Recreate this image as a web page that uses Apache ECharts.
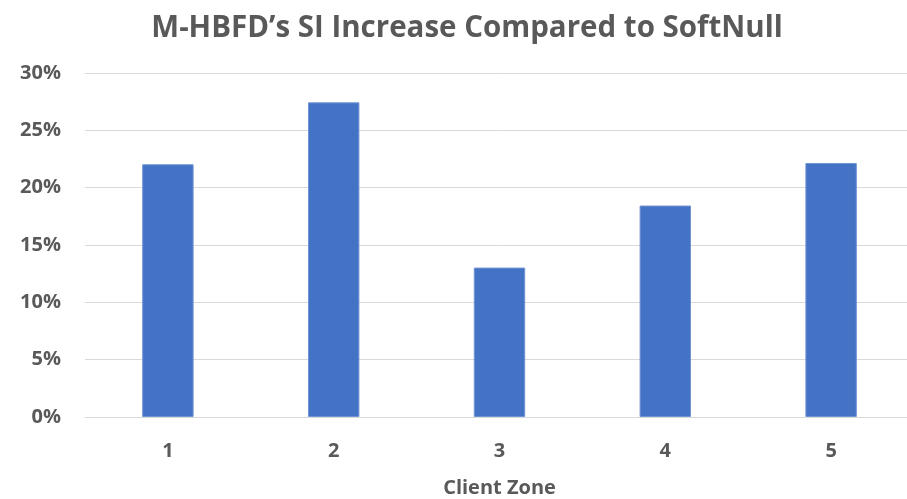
<!DOCTYPE html>
<html>
<head>
<meta charset="utf-8">
<script src="https://cdn.jsdelivr.net/npm/echarts@6/dist/echarts.min.js"></script>
<style>
  html, body { margin: 0; padding: 0; background: #fff; }
  #chart { width: 907px; height: 499px; }
</style>
</head>
<body>
<div id="chart"></div>
<script>
// Client zones on the x axis
const zones = ['1', '2', '3', '4', '5'];
// SI increase of M-HBFD over SoftNull, in percent
const siIncrease = [22.04, 27.44, 13.03, 18.44, 22.15];
// Value axis range and step, in percent
const yMin = 0;
const yMax = 30;
const yStep = 5;

const textColor = '#595959';
const fontFamily = 'Open Sans, Noto Sans, sans-serif';

const chart = echarts.init(document.getElementById('chart'), null, { renderer: 'canvas' });
chart.setOption({
  animation: false,
  backgroundColor: '#ffffff',
  title: {
    text: 'M-HBFD\u2019s SI Increase Compared to SoftNull',
    left: 462,
    textAlign: 'center',
    top: 9,
    textStyle: { color: textColor, fontSize: 29.5, fontWeight: 'bold', fontFamily: fontFamily }
  },
  // plot area runs past the right edge of the canvas
  grid: { left: 85, width: 829, top: 73, height: 344, containLabel: false, outerBoundsMode: 'none' },
  xAxis: {
    type: 'category',
    data: zones,
    name: 'Client Zone',
    nameLocation: 'middle',
    nameGap: 61,
    nameTextStyle: { color: textColor, fontSize: 20, fontWeight: 'bold', fontFamily: fontFamily },
    axisLine: { show: true, lineStyle: { color: '#d9d9d9', width: 1 } },
    axisTick: { show: false },
    axisLabel: { color: textColor, fontSize: 20, fontWeight: 'bold', fontFamily: fontFamily, margin: 24 }
  },
  yAxis: {
    type: 'value',
    min: yMin,
    max: yMax,
    interval: yStep,
    axisLine: { show: false },
    axisTick: { show: false },
    axisLabel: {
      color: textColor, fontSize: 20, fontWeight: 'bold', fontFamily: fontFamily, margin: 24,
      formatter: v => v + '%'
    },
    splitLine: { lineStyle: { color: '#d9d9d9', width: 1 } }
  },
  series: [{
    type: 'bar',
    data: siIncrease,
    barWidth: '31%',
    itemStyle: { color: '#4472c4', borderColor: '#6f93d3', borderWidth: 1 }
  }]
});
</script>
</body>
</html>
